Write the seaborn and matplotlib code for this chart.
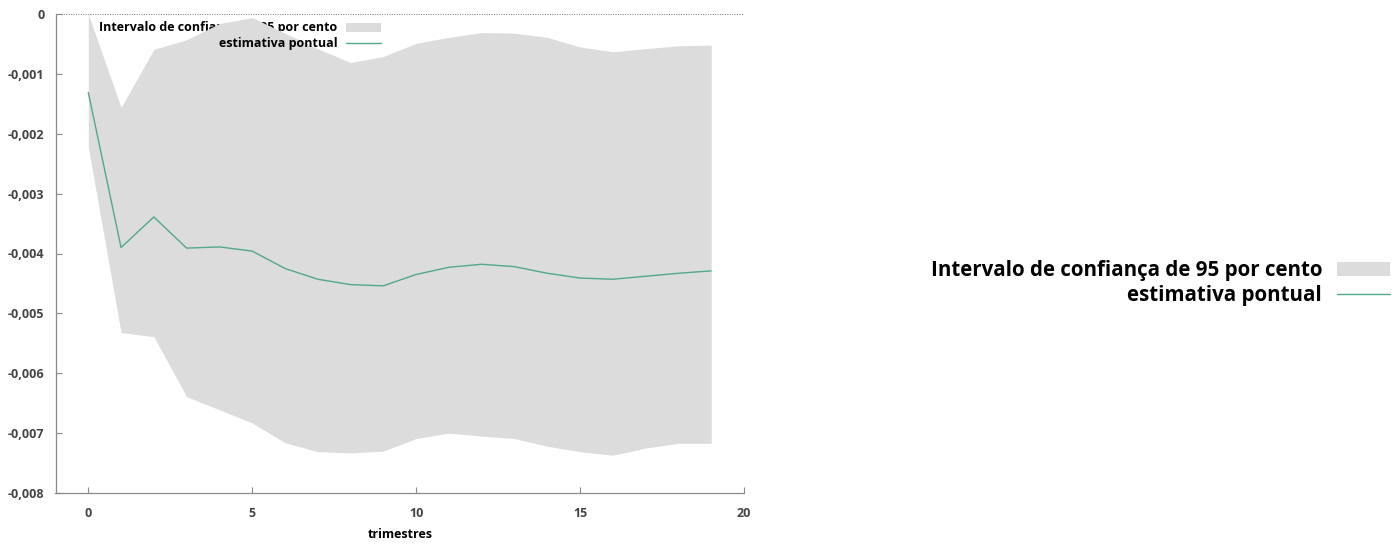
import matplotlib
matplotlib.use("Agg")
import matplotlib.pyplot as plt
from matplotlib.patches import Patch
from matplotlib.lines import Line2D
from matplotlib.ticker import FuncFormatter
import seaborn as sns
import pandas as pd

# Impulse response: horizon in quarters, point estimate and 95% band
trimestres = list(range(20))
estimativa = [-0.00131, -0.00390, -0.00339, -0.00391, -0.00389, -0.00396,
              -0.00425, -0.00443, -0.00452, -0.00454, -0.00435, -0.00423,
              -0.00418, -0.00422, -0.00433, -0.00441, -0.00443, -0.00438,
              -0.00433, -0.00429]
limite_superior = [0.0, -0.00156, -0.00059, -0.00043, -0.00016, -0.00006,
                   -0.00032, -0.00058, -0.00081, -0.00071, -0.00049, -0.00039,
                   -0.00031, -0.00032, -0.00039, -0.00055, -0.00063, -0.00058,
                   -0.00053, -0.00052]
limite_inferior = [-0.00222, -0.00532, -0.00539, -0.00639, -0.00661, -0.00683,
                   -0.00716, -0.00731, -0.00733, -0.00730, -0.00709, -0.00700,
                   -0.00705, -0.00709, -0.00722, -0.00731, -0.00737, -0.00725,
                   -0.00717, -0.00717]
rotulo_banda = "Intervalo de confiança de 95 por cento"
rotulo_linha = "estimativa pontual"
x_ticks = [0, 5, 10, 15, 20]
y_ticks = [0, -0.001, -0.002, -0.003, -0.004, -0.005, -0.006, -0.007, -0.008]

df = pd.DataFrame({"trimestres": trimestres, "estimativa": estimativa,
                   "sup": limite_superior, "inf": limite_inferior})

sns.set_theme(style="ticks")
plt.rcParams["font.family"] = ["Open Sans", "DejaVu Sans"]

W, H = 1395, 545
fig = plt.figure(figsize=(W / 100, H / 100), dpi=100)
ax = fig.add_axes([55.5 / W, 1 - 493 / H, (744 - 55.5) / W, (493 - 14) / H])

band_color = "#dcdcdc"
line_color = "#52a88a"
axis_gray = "#8a8a8a"

ax.fill_between(df["trimestres"], df["inf"], df["sup"], color=band_color,
                lw=0, zorder=2)
sns.lineplot(data=df, x="trimestres", y="estimativa", ax=ax, color=line_color,
             lw=1.0, zorder=4)

ax.axhline(0, color="#777777", ls=(0, (1, 1.5)), lw=0.7, zorder=1)

ax.set_xlim(-1, 20)
ax.set_ylim(-0.008, 0)
ax.set_xticks(x_ticks)
ax.set_yticks(y_ticks)
ax.yaxis.set_major_formatter(FuncFormatter(
    lambda v, p: "0" if abs(v) < 1e-12 else f"{v:.3f}".replace(".", ",")))

for side in ("top", "right"):
    ax.spines[side].set_visible(False)
for side in ("left", "bottom"):
    ax.spines[side].set_color(axis_gray)
    ax.spines[side].set_linewidth(0.9)

ax.tick_params(axis="both", direction="in", length=4, width=0.8,
               color=axis_gray, labelsize=9, labelcolor="#444444")
ax.tick_params(axis="x", pad=10)
ax.tick_params(axis="y", pad=8)
for lab in ax.get_xticklabels() + ax.get_yticklabels():
    lab.set_fontweight("bold")

ax.set_xlabel("trimestres", fontsize=9, fontweight="bold", color="black",
              labelpad=6)
ax.set_ylabel("")

band_handle = Patch(facecolor=band_color, edgecolor="none")
line_handle = Line2D([], [], color=line_color, lw=1.0)

common = dict(frameon=False, markerfirst=False, borderpad=0, borderaxespad=0,
              handletextpad=0.7, loc="center right", labelcolor="black")

# Small key inside the axes; the band entry sits beneath the shaded area
leg1 = ax.legend([band_handle], [rotulo_banda],
                 bbox_to_anchor=(381 / W, 1 - 28 / H),
                 bbox_transform=fig.transFigure,
                 prop={"size": 9, "weight": "bold"}, handlelength=2.8,
                 **common)
leg1.set_zorder(1.5)
ax.add_artist(leg1)
leg2 = ax.legend([line_handle], [rotulo_linha],
                 bbox_to_anchor=(381 / W, 1 - 44 / H),
                 bbox_transform=fig.transFigure,
                 prop={"size": 9, "weight": "bold"}, handlelength=2.8,
                 **common)
leg2.set_zorder(3)

# Larger key at the right-hand side of the figure
fig.legend([band_handle, line_handle], [rotulo_banda, rotulo_linha],
           bbox_to_anchor=(1390 / W, 1 - 283 / H),
           bbox_transform=fig.transFigure,
           prop={"size": 14.8, "weight": "bold"}, handlelength=2.6,
           labelspacing=0.2, **common)

fig.savefig("out.png", dpi=100)
